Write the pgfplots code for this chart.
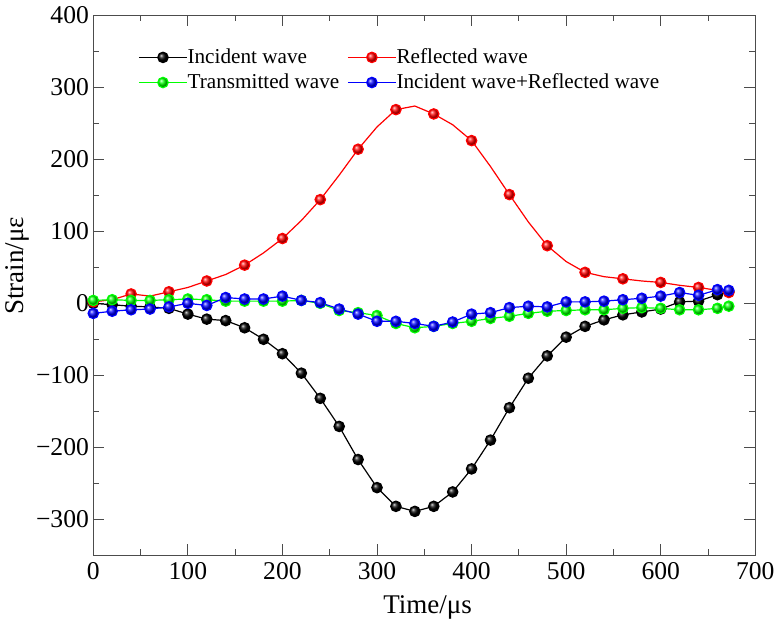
\documentclass[border=0pt]{standalone}
\usepackage{fontspec}
\setmainfont{Liberation Serif}
\usepackage{pgfplots}
\usepackage{pgfplotstable}
\pgfplotsset{compat=1.18}

\pgfplotstableread{
x y
0 0
20 -2
40 -4
60 -5
80 -7
100 -15
120 -22
140 -24
160 -34
180 -50
200 -70
220 -97
240 -132
260 -171
280 -217
300 -256
320 -282
340 -289
360 -282
380 -262
400 -230
420 -190
440 -145
460 -104
480 -73
500 -47
520 -32
540 -23
560 -16
580 -12
600 -8
620 2
640 3
660 12
672 16
}\incident

\pgfplotstableread{
x y
0 2
20 5
40 13
60 10
80 16
100 22
120 31
140 40
160 53
180 70
200 90
220 115
240 144
260 178
280 214
300 245
320 269
340 274
360 263
380 248
400 226
420 190
440 151
460 113
480 80
500 58
520 43
540 37
560 34
580 31
600 29
620 25
640 22
660 18
672 15
}\reflected

\pgfplotstableread{
x y
0 4
20 5
40 4
60 4
80 5
100 6
120 5
140 3
160 3
180 3
200 3
220 4
240 0
260 -10
280 -13
300 -17
320 -28
340 -34
360 -32
380 -28
400 -25
420 -21
440 -18
460 -14
480 -11
500 -10
520 -9
540 -9
560 -7
580 -6
600 -7
620 -9
640 -9
660 -7
672 -4
}\transmitted

\pgfplotstableread{
x y
0 -14
20 -11
40 -9
60 -8
80 -5
100 0
120 -3
140 8
160 6
180 6
200 10
220 4
240 1
260 -8
280 -15
300 -25
320 -25
340 -28
360 -32
380 -26
400 -15
420 -13
440 -6
460 -4
480 -5
500 2
520 2
540 3
560 5
580 7
600 10
620 15
640 11
660 19
672 18
}\sumwave

\begin{document}
\begin{tikzpicture}
\useasboundingbox (-46.65pt,-35.35pt) rectangle (341.35pt,277.65pt);
\begin{axis}[
  at={(0pt,0pt)}, anchor=south west,
  scale only axis,
  width=331pt, height=270pt,
  xmin=0, xmax=700, ymin=-350, ymax=400,
  xtick={0,100,...,700},
  xticklabels={0,100,200,300,400,500,600,700},
  ytick={-300,-200,...,400},
  yticklabels={−300,−200,−100,0,100,200,300,400},
  minor tick num=1,
  tick align=inside,
  major tick length=5.5pt,
  minor tick length=3pt,
  axis line style={draw=black!70, line width=0.6pt},
  every tick/.style={draw=black!70, line width=0.5pt},
  tick label style={font=\fontsize{12.8}{15}\selectfont},
  xticklabel style={inner sep=0pt, anchor=north, yshift=-3.2pt},
  yticklabel style={inner sep=0pt, anchor=east, xshift=-2pt},
  xlabel={Time/μs},
  ylabel={Strain/με},
  label style={font=\fontsize{13.5}{16}\selectfont},
  xlabel style={at={(rel axis cs:0.505,-0.1087)}, anchor=base},
  ylabel style={at={(rel axis cs:-0.1145,0.536)}, anchor=center},
  legend columns=2,
  legend cell align=left,
  legend style={draw=none, fill=none, at={(rel axis cs:0.0675,0.9394)}, anchor=north west,
    inner sep=0pt, font=\fontsize{10.6}{12}\selectfont, row sep=3.6pt,
    nodes={inner sep=0pt},
    /tikz/every even column/.append style={column sep=4pt}},
  legend image code/.code={\draw[#1, mark repeat=2, mark phase=2, line width=0.6pt] plot coordinates {(0pt,0pt) (12pt,0pt) (24pt,0pt)};},
]
\addplot[black, line width=0.6pt, mark=ball, mark size=2.6pt, mark options={ball color=black}] table {\incident};
\addlegendentry{Incident wave}
\addplot[red, line width=0.6pt, mark=ball, mark size=2.6pt, mark repeat=2, mark phase=1, mark options={ball color=red}] table {\reflected};
\addlegendentry{Reflected wave}
\addplot[green, line width=0.6pt, mark=ball, mark size=2.6pt, mark options={ball color=green}] table {\transmitted};
\addlegendentry{Transmitted wave}
\addplot[blue, line width=0.6pt, mark=ball, mark size=2.6pt, mark options={ball color=blue}] table {\sumwave};
\addlegendentry{Incident wave+Reflected wave}
\end{axis}
\end{tikzpicture}
\end{document}
